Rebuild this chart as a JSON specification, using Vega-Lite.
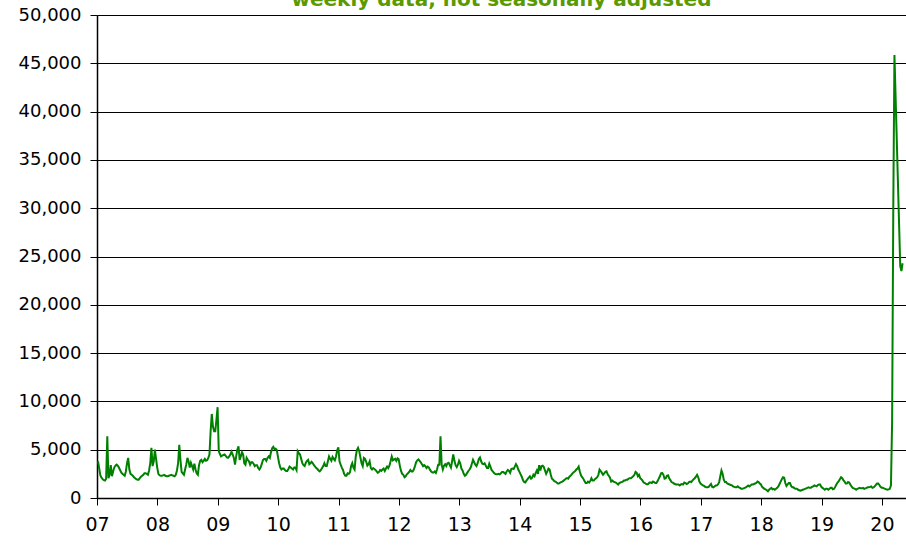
{
"$schema":"https://vega.github.io/schema/vega-lite/v6.json",
"width":809,"height":483,
"autosize":{"type":"none"},
"padding":{"left":97,"top":15,"right":0,"bottom":48},
"background":"white",
"title":{"text":"weekly data, not seasonally adjusted","anchor":"middle","frame":"group","font":"DejaVu Sans","fontSize":20,"fontWeight":"bold","color":"#5a9a00","baseline":"alphabetic","offset":0,"dy":20},
"config":{"view":{"stroke":null}},
"data":{"values":[
{"w":0,"v":3800},{"w":1,"v":3100},{"w":2,"v":2350},{"w":3,"v":2100},{"w":4,"v":1950},{"w":5,"v":1850},{"w":6,"v":1800},{"w":7,"v":2000},{"w":8,"v":6400},{"w":9,"v":2050},
{"w":10,"v":2400},{"w":11,"v":3400},{"w":12,"v":2250},{"w":13,"v":2750},{"w":14,"v":3150},{"w":15,"v":3350},{"w":16,"v":3450},{"w":17,"v":3350},{"w":18,"v":3150},{"w":19,"v":2900},
{"w":20,"v":2650},{"w":21,"v":2500},{"w":22,"v":2400},{"w":23,"v":2300},{"w":24,"v":2750},{"w":25,"v":3600},{"w":26,"v":4150},{"w":27,"v":2950},{"w":28,"v":2500},{"w":29,"v":2400},
{"w":30,"v":2300},{"w":31,"v":2150},{"w":32,"v":2050},{"w":33,"v":1950},{"w":34,"v":1900},{"w":35,"v":1900},{"w":36,"v":2050},{"w":37,"v":2200},{"w":38,"v":2300},{"w":39,"v":2400},
{"w":40,"v":2550},{"w":41,"v":2550},{"w":42,"v":2500},{"w":43,"v":2400},{"w":44,"v":2850},{"w":45,"v":3600},{"w":46,"v":5200},{"w":47,"v":3300},{"w":48,"v":3800},{"w":49,"v":5000},
{"w":50,"v":4050},{"w":51,"v":3150},{"w":52,"v":2500},{"w":53,"v":2350},{"w":54,"v":2300},{"w":55,"v":2300},{"w":56,"v":2350},{"w":57,"v":2400},{"w":58,"v":2300},{"w":59,"v":2250},
{"w":60,"v":2250},{"w":61,"v":2300},{"w":62,"v":2350},{"w":63,"v":2400},{"w":64,"v":2350},{"w":65,"v":2300},{"w":66,"v":2250},{"w":67,"v":2400},{"w":68,"v":2850},{"w":69,"v":3600},
{"w":70,"v":5500},{"w":71,"v":3950},{"w":72,"v":2700},{"w":73,"v":2550},{"w":74,"v":2400},{"w":75,"v":2950},{"w":76,"v":3450},{"w":77,"v":4150},{"w":78,"v":3800},{"w":79,"v":3150},
{"w":80,"v":3650},{"w":81,"v":3300},{"w":82,"v":2950},{"w":83,"v":3550},{"w":84,"v":2950},{"w":85,"v":2550},{"w":86,"v":2400},{"w":87,"v":3400},{"w":88,"v":3850},{"w":89,"v":3950},
{"w":90,"v":3700},{"w":91,"v":3850},{"w":92,"v":4050},{"w":93,"v":3850},{"w":94,"v":3900},{"w":95,"v":4150},{"w":96,"v":4500},{"w":97,"v":6900},{"w":98,"v":8700},{"w":99,"v":7400},
{"w":100,"v":6900},{"w":101,"v":6900},{"w":102,"v":8100},{"w":103,"v":9400},{"w":104,"v":4850},{"w":105,"v":4550},{"w":106,"v":4300},{"w":107,"v":4400},{"w":108,"v":4450},{"w":109,"v":4500},
{"w":110,"v":4350},{"w":111,"v":4200},{"w":112,"v":4150},{"w":113,"v":4300},{"w":114,"v":4500},{"w":115,"v":4800},{"w":116,"v":4500},{"w":117,"v":4150},{"w":118,"v":3450},{"w":119,"v":4300},
{"w":120,"v":5000},{"w":121,"v":5350},{"w":122,"v":3950},{"w":123,"v":4300},{"w":124,"v":4750},{"w":125,"v":4500},{"w":126,"v":3600},{"w":127,"v":3450},{"w":128,"v":4150},{"w":129,"v":3950},
{"w":130,"v":3800},{"w":131,"v":3450},{"w":132,"v":3700},{"w":133,"v":3700},{"w":134,"v":3550},{"w":135,"v":3300},{"w":136,"v":3400},{"w":137,"v":3400},{"w":138,"v":3100},{"w":139,"v":2950},
{"w":140,"v":3150},{"w":141,"v":3500},{"w":142,"v":3900},{"w":143,"v":4050},{"w":144,"v":4050},{"w":145,"v":3850},{"w":146,"v":4150},{"w":147,"v":4300},{"w":148,"v":4150},{"w":149,"v":4750},
{"w":150,"v":5150},{"w":151,"v":5300},{"w":152,"v":5050},{"w":153,"v":5100},{"w":154,"v":4950},{"w":155,"v":4250},{"w":156,"v":3600},{"w":157,"v":3150},{"w":158,"v":2950},{"w":159,"v":3050},
{"w":160,"v":3050},{"w":161,"v":2900},{"w":162,"v":2800},{"w":163,"v":2800},{"w":164,"v":3000},{"w":165,"v":3250},{"w":166,"v":3150},{"w":167,"v":3050},{"w":168,"v":2950},{"w":169,"v":3150},
{"w":170,"v":3150},{"w":171,"v":2900},{"w":172,"v":4850},{"w":173,"v":4650},{"w":174,"v":4500},{"w":175,"v":4050},{"w":176,"v":3600},{"w":177,"v":3400},{"w":178,"v":3300},{"w":179,"v":3650},
{"w":180,"v":3850},{"w":181,"v":3950},{"w":182,"v":3500},{"w":183,"v":3600},{"w":184,"v":3750},{"w":185,"v":3600},{"w":186,"v":3400},{"w":187,"v":3250},{"w":188,"v":3100},{"w":189,"v":3000},
{"w":190,"v":2850},{"w":191,"v":2750},{"w":192,"v":2900},{"w":193,"v":3100},{"w":194,"v":3300},{"w":195,"v":3600},{"w":196,"v":3300},{"w":197,"v":3300},{"w":198,"v":3800},{"w":199,"v":4300},
{"w":200,"v":4050},{"w":201,"v":3850},{"w":202,"v":4250},{"w":203,"v":4050},{"w":204,"v":3900},{"w":205,"v":4300},{"w":206,"v":4950},{"w":207,"v":5250},{"w":208,"v":3800},{"w":209,"v":3450},
{"w":210,"v":3150},{"w":211,"v":2900},{"w":212,"v":2500},{"w":213,"v":2300},{"w":214,"v":2300},{"w":215,"v":2550},{"w":216,"v":2500},{"w":217,"v":2650},{"w":218,"v":3300},{"w":219,"v":3600},
{"w":220,"v":3150},{"w":221,"v":2950},{"w":222,"v":4300},{"w":223,"v":4950},{"w":224,"v":5200},{"w":225,"v":4850},{"w":226,"v":4200},{"w":227,"v":3600},{"w":228,"v":3300},{"w":229,"v":4150},
{"w":230,"v":4050},{"w":231,"v":3750},{"w":232,"v":3350},{"w":233,"v":3500},{"w":234,"v":3800},{"w":235,"v":3100},{"w":236,"v":2950},{"w":237,"v":3100},{"w":238,"v":3000},{"w":239,"v":2900},
{"w":240,"v":2750},{"w":241,"v":2600},{"w":242,"v":2700},{"w":243,"v":2900},{"w":244,"v":2800},{"w":245,"v":2950},{"w":246,"v":3050},{"w":247,"v":2800},{"w":248,"v":3050},{"w":249,"v":3250},
{"w":250,"v":3100},{"w":251,"v":3350},{"w":252,"v":3800},{"w":253,"v":4300},{"w":254,"v":3900},{"w":255,"v":4000},{"w":256,"v":4050},{"w":257,"v":3850},{"w":258,"v":4100},{"w":259,"v":4000},
{"w":260,"v":3300},{"w":261,"v":2800},{"w":262,"v":2500},{"w":263,"v":2400},{"w":264,"v":2150},{"w":265,"v":2250},{"w":266,"v":2450},{"w":267,"v":2550},{"w":268,"v":2700},{"w":269,"v":2900},
{"w":270,"v":2750},{"w":271,"v":2750},{"w":272,"v":2950},{"w":273,"v":3300},{"w":274,"v":3700},{"w":275,"v":3900},{"w":276,"v":4000},{"w":277,"v":3850},{"w":278,"v":3700},{"w":279,"v":3500},
{"w":280,"v":3300},{"w":281,"v":3400},{"w":282,"v":3300},{"w":283,"v":3100},{"w":284,"v":3250},{"w":285,"v":3150},{"w":286,"v":2900},{"w":287,"v":2750},{"w":288,"v":2650},{"w":289,"v":2650},
{"w":290,"v":2750},{"w":291,"v":2600},{"w":292,"v":2950},{"w":293,"v":3450},{"w":294,"v":3450},{"w":295,"v":6400},{"w":296,"v":3450},{"w":297,"v":2950},{"w":298,"v":3350},{"w":299,"v":3500},
{"w":300,"v":3300},{"w":301,"v":3600},{"w":302,"v":3650},{"w":303,"v":3400},{"w":304,"v":3150},{"w":305,"v":3800},{"w":306,"v":4500},{"w":307,"v":3850},{"w":308,"v":3400},{"w":309,"v":3200},
{"w":310,"v":3450},{"w":311,"v":3850},{"w":312,"v":3600},{"w":313,"v":3050},{"w":314,"v":2850},{"w":315,"v":2500},{"w":316,"v":2300},{"w":317,"v":2400},{"w":318,"v":2600},{"w":319,"v":2800},
{"w":320,"v":2950},{"w":321,"v":3150},{"w":322,"v":3550},{"w":323,"v":3950},{"w":324,"v":3700},{"w":325,"v":3450},{"w":326,"v":3300},{"w":327,"v":3600},{"w":328,"v":4050},{"w":329,"v":4200},
{"w":330,"v":3800},{"w":331,"v":3550},{"w":332,"v":3500},{"w":333,"v":3600},{"w":334,"v":3350},{"w":335,"v":3100},{"w":336,"v":3100},{"w":337,"v":3550},{"w":338,"v":3250},{"w":339,"v":2900},
{"w":340,"v":2750},{"w":341,"v":2600},{"w":342,"v":2500},{"w":343,"v":2450},{"w":344,"v":2450},{"w":345,"v":2500},{"w":346,"v":2450},{"w":347,"v":2550},{"w":348,"v":2700},{"w":349,"v":2700},
{"w":350,"v":2600},{"w":351,"v":2500},{"w":352,"v":2750},{"w":353,"v":2900},{"w":354,"v":2800},{"w":355,"v":2600},{"w":356,"v":3000},{"w":357,"v":3050},{"w":358,"v":3000},{"w":359,"v":3250},
{"w":360,"v":3500},{"w":361,"v":3300},{"w":362,"v":2950},{"w":363,"v":2700},{"w":364,"v":2450},{"w":365,"v":2200},{"w":366,"v":1850},{"w":367,"v":1650},{"w":368,"v":1600},{"w":369,"v":1800},
{"w":370,"v":1950},{"w":371,"v":2100},{"w":372,"v":2250},{"w":373,"v":2000},{"w":374,"v":2100},{"w":375,"v":2400},{"w":376,"v":2250},{"w":377,"v":2600},{"w":378,"v":2850},{"w":379,"v":2500},
{"w":380,"v":3400},{"w":381,"v":2850},{"w":382,"v":3300},{"w":383,"v":3350},{"w":384,"v":3200},{"w":385,"v":2850},{"w":386,"v":2500},{"w":387,"v":2750},{"w":388,"v":3050},{"w":389,"v":2950},
{"w":390,"v":2400},{"w":391,"v":2000},{"w":392,"v":1900},{"w":393,"v":1750},{"w":394,"v":1700},{"w":395,"v":1600},{"w":396,"v":1500},{"w":397,"v":1500},{"w":398,"v":1600},{"w":399,"v":1650},
{"w":400,"v":1700},{"w":401,"v":1800},{"w":402,"v":1900},{"w":403,"v":2000},{"w":404,"v":2050},{"w":405,"v":2000},{"w":406,"v":2200},{"w":407,"v":2300},{"w":408,"v":2450},{"w":409,"v":2600},
{"w":410,"v":2700},{"w":411,"v":2800},{"w":412,"v":2950},{"w":413,"v":3050},{"w":414,"v":3250},{"w":415,"v":2750},{"w":416,"v":2350},{"w":417,"v":2150},{"w":418,"v":2000},{"w":419,"v":1750},
{"w":420,"v":1550},{"w":421,"v":1550},{"w":422,"v":1700},{"w":423,"v":1600},{"w":424,"v":1750},{"w":425,"v":2050},{"w":426,"v":1800},{"w":427,"v":1800},{"w":428,"v":1950},{"w":429,"v":2050},
{"w":430,"v":2150},{"w":431,"v":2400},{"w":432,"v":2950},{"w":433,"v":2800},{"w":434,"v":2600},{"w":435,"v":2400},{"w":436,"v":2550},{"w":437,"v":2700},{"w":438,"v":2750},{"w":439,"v":2450},
{"w":440,"v":2300},{"w":441,"v":2100},{"w":442,"v":1700},{"w":443,"v":1800},{"w":444,"v":1700},{"w":445,"v":1650},{"w":446,"v":1600},{"w":447,"v":1500},{"w":448,"v":1400},{"w":449,"v":1550},
{"w":450,"v":1600},{"w":451,"v":1650},{"w":452,"v":1700},{"w":453,"v":1800},{"w":454,"v":1800},{"w":455,"v":1900},{"w":456,"v":1900},{"w":457,"v":2000},{"w":458,"v":2050},{"w":459,"v":2050},
{"w":460,"v":2150},{"w":461,"v":2250},{"w":462,"v":2400},{"w":463,"v":2700},{"w":464,"v":2600},{"w":465,"v":2250},{"w":466,"v":2400},{"w":467,"v":2050},{"w":468,"v":1950},{"w":469,"v":1800},
{"w":470,"v":1600},{"w":471,"v":1550},{"w":472,"v":1450},{"w":473,"v":1400},{"w":474,"v":1450},{"w":475,"v":1600},{"w":476,"v":1600},{"w":477,"v":1550},{"w":478,"v":1700},{"w":479,"v":1650},
{"w":480,"v":1550},{"w":481,"v":1550},{"w":482,"v":1750},{"w":483,"v":2000},{"w":484,"v":2250},{"w":485,"v":2550},{"w":486,"v":2600},{"w":487,"v":2400},{"w":488,"v":2000},{"w":489,"v":2050},
{"w":490,"v":2300},{"w":491,"v":2350},{"w":492,"v":2050},{"w":493,"v":1850},{"w":494,"v":1650},{"w":495,"v":1600},{"w":496,"v":1500},{"w":497,"v":1450},{"w":498,"v":1400},{"w":499,"v":1400},
{"w":500,"v":1400},{"w":501,"v":1300},{"w":502,"v":1400},{"w":503,"v":1450},{"w":504,"v":1400},{"w":505,"v":1600},{"w":506,"v":1550},{"w":507,"v":1450},{"w":508,"v":1500},{"w":509,"v":1650},
{"w":510,"v":1700},{"w":511,"v":1650},{"w":512,"v":1800},{"w":513,"v":1950},{"w":514,"v":2050},{"w":515,"v":2200},{"w":516,"v":2400},{"w":517,"v":2150},{"w":518,"v":1700},{"w":519,"v":1500},
{"w":520,"v":1400},{"w":521,"v":1300},{"w":522,"v":1250},{"w":523,"v":1150},{"w":524,"v":1100},{"w":525,"v":1100},{"w":526,"v":1150},{"w":527,"v":1300},{"w":528,"v":1450},{"w":529,"v":1150},
{"w":530,"v":1100},{"w":531,"v":1200},{"w":532,"v":1300},{"w":533,"v":1300},{"w":534,"v":1400},{"w":535,"v":1650},{"w":536,"v":2250},{"w":537,"v":2850},{"w":538,"v":2500},{"w":539,"v":1900},
{"w":540,"v":1650},{"w":541,"v":1650},{"w":542,"v":1500},{"w":543,"v":1450},{"w":544,"v":1400},{"w":545,"v":1350},{"w":546,"v":1300},{"w":547,"v":1200},{"w":548,"v":1150},{"w":549,"v":1100},
{"w":550,"v":1100},{"w":551,"v":1200},{"w":552,"v":1100},{"w":553,"v":1050},{"w":554,"v":950},{"w":555,"v":950},{"w":556,"v":1000},{"w":557,"v":1050},{"w":558,"v":1100},{"w":559,"v":1200},
{"w":560,"v":1300},{"w":561,"v":1200},{"w":562,"v":1300},{"w":563,"v":1400},{"w":564,"v":1400},{"w":565,"v":1450},{"w":566,"v":1500},{"w":567,"v":1550},{"w":568,"v":1700},{"w":569,"v":1650},
{"w":570,"v":1500},{"w":571,"v":1400},{"w":572,"v":1150},{"w":573,"v":1050},{"w":574,"v":950},{"w":575,"v":900},{"w":576,"v":800},{"w":577,"v":700},{"w":578,"v":850},{"w":579,"v":950},
{"w":580,"v":1050},{"w":581,"v":900},{"w":582,"v":950},{"w":583,"v":850},{"w":584,"v":950},{"w":585,"v":1050},{"w":586,"v":1200},{"w":587,"v":1450},{"w":588,"v":1700},{"w":589,"v":1950},
{"w":590,"v":2150},{"w":591,"v":2100},{"w":592,"v":1550},{"w":593,"v":1250},{"w":594,"v":1400},{"w":595,"v":1550},{"w":596,"v":1550},{"w":597,"v":1250},{"w":598,"v":1100},{"w":599,"v":1100},
{"w":600,"v":1000},{"w":601,"v":950},{"w":602,"v":950},{"w":603,"v":850},{"w":604,"v":800},{"w":605,"v":750},{"w":606,"v":800},{"w":607,"v":850},{"w":608,"v":900},{"w":609,"v":950},
{"w":610,"v":1000},{"w":611,"v":1050},{"w":612,"v":1100},{"w":613,"v":1050},{"w":614,"v":1050},{"w":615,"v":1150},{"w":616,"v":1200},{"w":617,"v":1300},{"w":618,"v":1250},{"w":619,"v":1200},
{"w":620,"v":1350},{"w":621,"v":1400},{"w":622,"v":1400},{"w":623,"v":1150},{"w":624,"v":1050},{"w":625,"v":950},{"w":626,"v":850},{"w":627,"v":950},{"w":628,"v":950},{"w":629,"v":850},
{"w":630,"v":950},{"w":631,"v":1050},{"w":632,"v":1050},{"w":633,"v":900},{"w":634,"v":950},{"w":635,"v":1150},{"w":636,"v":1400},{"w":637,"v":1600},{"w":638,"v":1750},{"w":639,"v":1950},
{"w":640,"v":2150},{"w":641,"v":2050},{"w":642,"v":1850},{"w":643,"v":1700},{"w":644,"v":1500},{"w":645,"v":1500},{"w":646,"v":1650},{"w":647,"v":1600},{"w":648,"v":1400},{"w":649,"v":1200},
{"w":650,"v":1050},{"w":651,"v":1000},{"w":652,"v":950},{"w":653,"v":850},{"w":654,"v":950},{"w":655,"v":1000},{"w":656,"v":1050},{"w":657,"v":1000},{"w":658,"v":1000},{"w":659,"v":1050},
{"w":660,"v":950},{"w":661,"v":1000},{"w":662,"v":1050},{"w":663,"v":1100},{"w":664,"v":1100},{"w":665,"v":1150},{"w":666,"v":1200},{"w":667,"v":1050},{"w":668,"v":1100},{"w":669,"v":1200},
{"w":670,"v":1350},{"w":671,"v":1500},{"w":672,"v":1500},{"w":673,"v":1350},{"w":674,"v":1150},{"w":675,"v":1050},{"w":676,"v":1050},{"w":677,"v":1000},{"w":678,"v":950},{"w":679,"v":900},
{"w":680,"v":850},{"w":681,"v":900},{"w":682,"v":950},{"w":683,"v":1300},{"w":684,"v":8000},{"w":685,"v":30000},{"w":686,"v":45850},{"w":687,"v":41500},{"w":688,"v":37100},{"w":689,"v":32700},
{"w":690,"v":28300},{"w":691,"v":24000},{"w":692,"v":23500},{"w":693,"v":24300}
]},
"mark":{"type":"line","color":"#008000","strokeWidth":2},
"encoding":{
"x":{"field":"w","type":"quantitative","scale":{"domain":[-0.87,695.95],"nice":false,"zero":false},
"axis":{"values":[-0.861,51.145,103.153,155.16,207.166,259.173,311.18,363.187,415.194,467.201,519.208,571.214,623.221,675.228],
"labelExpr":"(7+round((datum.value+0.861)/52.007) < 10 ? '0' : '') + (7+round((datum.value+0.861)/52.007))",
"grid":false,"title":null,"domainColor":"black","domainWidth":1.5,"tickColor":"black","tickSize":7,"tickWidth":1,
"labelFont":"DejaVu Sans","labelFontSize":19,"labelColor":"black","labelPadding":10,"labelFlush":false,"labelOverlap":false}},
"y":{"field":"v","type":"quantitative","scale":{"domain":[0,50000],"nice":false},
"axis":{"values":[0,5000,10000,15000,20000,25000,30000,35000,40000,45000,50000],"format":",d",
"grid":true,"gridColor":"black","gridOpacity":1,"gridWidth":1,"title":null,
"domainColor":"black","domainWidth":1.5,"tickColor":"black","tickSize":7,"tickWidth":1,
"labelFont":"DejaVu Sans","labelFontSize":18,"labelColor":"black","labelPadding":9}}
}
}
